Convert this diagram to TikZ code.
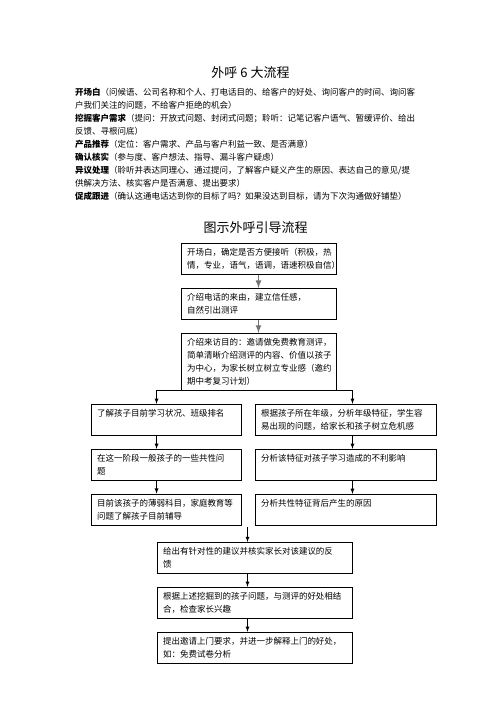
\documentclass[tikz,border=0pt]{standalone}
\usepackage{fontspec}
\setmainfont{Noto Sans CJK SC}
\usetikzlibrary{arrows,positioning}
\tikzstyle{stepbox} = [rectangle, draw, line width=0.9pt, align=left, inner xsep=6pt, inner ysep=5pt, font=\fontsize{8.5}{13}\selectfont]
\tikzstyle{onerow} = [text depth=14pt]
\tikzstyle{arrow} = [draw, line width=0.8pt, color=black, -latex]
\tikzstyle{grayarrow} = [draw, line width=1.6pt, color=black!55, -latex]
\tikzstyle{para} = [anchor=base west, inner sep=0pt, font=\fontsize{8.5}{13}\selectfont]
\tikzstyle{heading} = [inner sep=0pt, font=\fontsize{13}{15}\selectfont]

\begin{document}
\begin{tikzpicture}[x=1pt, y=-1pt]
  \useasboundingbox (0,0) rectangle (496,702);

  % six steps
  \node[heading] (title) at (250.5,73) {外呼 6 大流程};
  \node[para] (p1) at (75,95.5) {\textbf{开场白}（问候语、公司名称和个人、打电话目的、给客户的好处、询问客户的时间、询问客};
  \node[para] (p2) at (75,108.5) {户我们关注的问题，不给客户拒绝的机会）};
  \node[para] (p3) at (75,121.5) {\textbf{挖掘客户需求}（提问：开放式问题、封闭式问题；聆听：记笔记客户语气、暂缓评价、给出};
  \node[para] (p4) at (75,134.5) {反馈、寻根问底）};
  \node[para] (p5) at (75,147.5) {\textbf{产品推荐}（定位：客户需求、产品与客户利益一致、是否满意）};
  \node[para] (p6) at (75,160.5) {\textbf{确认核实}（参与度、客户想法、指导、漏斗客户疑虑）};
  \node[para] (p7) at (75,173.5) {\textbf{异议处理}（聆听并表达同理心、通过提问，了解客户疑义产生的原因、表达自己的意见/提};
  \node[para] (p8) at (75,186.5) {供解决方法、核实客户是否满意、提出要求）};
  \node[para] (p9) at (75,199.5) {\textbf{促成跟进}（确认这通电话达到你的目标了吗？如果没达到目标，请为下次沟通做好铺垫）};

  % flow chart
  \node[heading] (chart) at (255.5,228) {图示外呼引导流程};
  \node[stepbox, text width=143pt, anchor=north] (open) at (258.5,243) {开场白，确定是否方便接听（积极，热\\情，专业，语气，语调，语速积极自信）};
  \node[stepbox, text width=143pt, below=13pt of open] (reason) {介绍电话的来由，建立信任感，\\自然引出测评};
  \node[stepbox, text width=143pt, below=13pt of reason] (purpose) {介绍来访目的：邀请做免费教育测评，\\简单清晰介绍测评的内容、价值以孩子\\为中心，为家长树立树立专业感（邀约\\期中考复习计划）};

  \node[stepbox, onerow, text width=138pt, below=13pt of purpose, xshift=-92.5pt] (status) {了解孩子目前学习状况、班级排名};
  \node[stepbox, text width=138pt, below=13pt of status] (common) {在这一阶段一般孩子的一些共性问\\题};
  \node[stepbox, text width=138pt, below=13pt of common] (weak) {目前该孩子的薄弱科目，家庭教育等\\问题了解孩子目前辅导};

  \node[stepbox, text width=169pt, below=13pt of purpose, xshift=87pt] (grade) {根据孩子所在年级，分析年级特征，学生容\\易出现的问题，给家长和孩子树立危机感};
  \node[stepbox, onerow, text width=169pt, below=13pt of grade] (effect) {分析该特征对孩子学习造成的不利影响};
  \node[stepbox, onerow, text width=169pt, below=13pt of effect] (cause) {分析共性特征背后产生的原因};

  \coordinate (join) at (247.5,527);
  \node[stepbox, text width=183pt, below=15pt of join, xshift=7pt] (advice) {给出有针对性的建议并核实家长对该建议的反\\馈};
  \node[stepbox, text width=183pt, below=13pt of advice] (match) {根据上述挖掘到的孩子问题，与测评的好处相结\\合，检查家长兴趣};
  \node[stepbox, text width=183pt, below=13pt of match] (visit) {提出邀请上门要求，并进一步解释上门的好处，\\如：免费试卷分析};

  \path[grayarrow] (open) -- (reason);
  \path[grayarrow] (reason) -- (purpose);
  \path[arrow] (purpose.south) -| (status.north -| advice.west);
  \path[arrow] (purpose.south) -| (grade.north -| advice.east);
  \path[arrow] (status.south -| advice.west) -- (common.north -| advice.west);
  \path[arrow] (common.south -| advice.west) -- (weak.north -| advice.west);
  \path[arrow] (grade.south -| advice.east) -- (effect.north -| advice.east);
  \path[arrow] (effect.south -| advice.east) -- (cause.north -| advice.east);
  \path[arrow] (join) -- (advice.north -| join);
  \path[arrow] (advice.south -| join) -- (match.north -| join);
  \path[arrow] (match.south -| join) -- (visit.north -| join);

\end{tikzpicture}
\end{document}
